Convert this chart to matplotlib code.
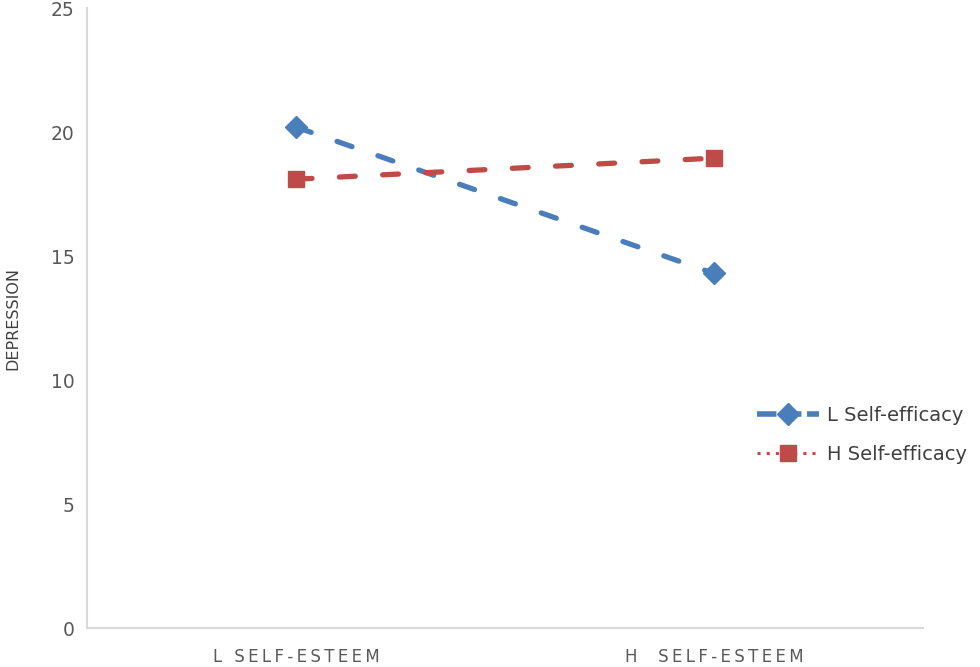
import matplotlib.pyplot as plt
from matplotlib.lines import Line2D

categories = ['L SELF-ESTEEM', 'H  SELF-ESTEEM']
low_efficacy = [20.2, 14.3]
high_efficacy = [18.1, 18.95]

blue = '#4a7ebb'
red = '#be4b48'
grey = '#595959'


def spaced(s):
    # rough letter spacing with thin spaces
    return '\u2009'.join(s)


fig = plt.figure(figsize=(9.8, 6.67), dpi=100)
ax = fig.add_axes([0.089, 0.058, 0.853, 0.93])

x = [0.5, 1.5]
dash = (0, (3.0, 5.2))
ax.plot(x, low_efficacy, color=blue, lw=3.8, ls=dash, marker='D',
        markersize=11, dash_capstyle='round')
ax.plot(x, high_efficacy, color=red, lw=3.8, ls=dash, marker='s',
        markersize=11, dash_capstyle='round')

ax.set_xlim(0, 2)
ax.set_ylim(0, 25)
ax.set_yticks([0, 5, 10, 15, 20, 25])
ax.set_xticks(x)
ax.set_xticklabels([spaced(c) for c in categories], fontsize=12, color=grey)
ax.tick_params(axis='both', length=0, labelcolor=grey)
ax.tick_params(axis='y', labelsize=13.5, pad=9)
ax.tick_params(axis='x', pad=14)
for s in ['top', 'right']:
    ax.spines[s].set_visible(False)
for s in ['left', 'bottom']:
    ax.spines[s].set_color('#d9d9d9')
    ax.spines[s].set_linewidth(1.5)
ax.set_ylabel('DEPRESSION', fontsize=11.5, color='#404040', labelpad=22)

handles = [
    Line2D([], [], color=blue, lw=4, ls=(0, (3.5, 1)), marker='D', markersize=11),
    Line2D([], [], color=red, lw=2.2, ls=(0, (1, 2)), marker='s', markersize=11),
]
fig.legend(handles, ['L Self-efficacy', 'H Self-efficacy'], loc='center left',
           bbox_to_anchor=(0.772, 0.348), frameon=False, fontsize=14,
           labelcolor='#404040', handlelength=3.2, labelspacing=1.05,
           handletextpad=0.4, borderpad=0, borderaxespad=0)

fig.savefig('out.png', dpi=100)
